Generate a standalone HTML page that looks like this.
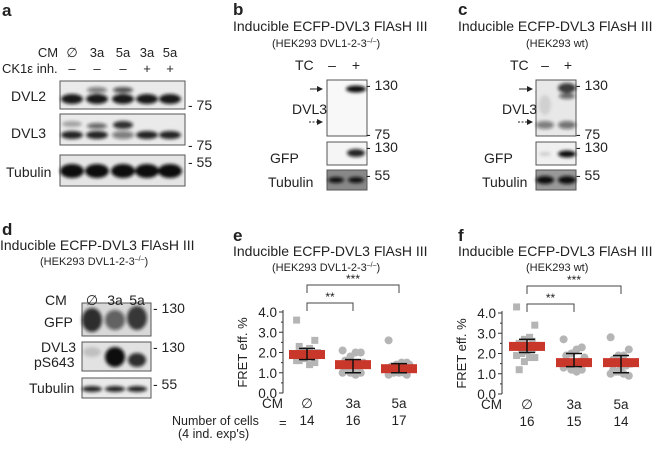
<!DOCTYPE html>
<html><head><meta charset="utf-8"><style>
body{margin:0;background:#fff}
svg text{font-family:"Liberation Sans",Arial,sans-serif;fill:#222}
</style></head><body>
<svg width="660" height="446" viewBox="0 0 660 446" xmlns="http://www.w3.org/2000/svg">
<defs>
<filter id="bl" x="-30%" y="-80%" width="160%" height="260%"><feGaussianBlur stdDeviation="1.6"/></filter>
<marker id="ar" markerWidth="6" markerHeight="6" refX="5" refY="3" orient="auto"><path d="M0,0 L6,3 L0,6z" fill="#222"/></marker>
</defs>
<g id="blots"></g>
<g id="txt" font-size="13">
<!-- panel a -->
<text x="2" y="16" font-size="17" font-weight="bold">a</text>
<text x="48" y="57" text-anchor="middle">CM</text>
<text x="72" y="57" text-anchor="middle">∅</text><text x="97" y="57" text-anchor="middle">3a</text><text x="123" y="57" text-anchor="middle">5a</text><text x="147" y="57" text-anchor="middle">3a</text><text x="170" y="57" text-anchor="middle">5a</text>
<text x="2" y="73">CK1ε inh.</text>
<text x="72" y="73" text-anchor="middle">–</text><text x="97" y="73" text-anchor="middle">–</text><text x="123" y="73" text-anchor="middle">–</text><text x="147" y="73" text-anchor="middle">+</text><text x="170" y="73" text-anchor="middle">+</text>
<text x="11" y="101" font-size="14">DVL2</text>
<text x="11" y="138" font-size="14">DVL3</text>
<text x="6" y="177" font-size="14">Tubulin</text>
<text x="188" y="110" font-size="14">- 75</text><text x="188" y="150" font-size="14">- 75</text><text x="188" y="167" font-size="14">- 55</text>
<!-- panel d -->
<text x="2" y="235" font-size="17" font-weight="bold">d</text>
<text x="0" y="250" font-size="14">Inducible ECFP-DVL3 FlAsH III</text>
<text x="40" y="265" font-size="11">(HEK293 DVL1-2-3<tspan font-size="7" dy="-4">–/–</tspan><tspan dy="4">)</tspan></text>
<text x="45" y="305" font-size="14">CM</text><text x="92" y="305" text-anchor="middle" font-size="14">∅</text><text x="115" y="305" text-anchor="middle" font-size="14">3a</text><text x="137" y="305" text-anchor="middle" font-size="14">5a</text>
<text x="44" y="327" font-size="14">GFP</text>
<text x="41" y="352" font-size="14">DVL3</text><text x="34" y="367" font-size="14">pS643</text>
<text x="29" y="393" font-size="14">Tubulin</text>
<text x="153" y="313" font-size="14">- 130</text><text x="153" y="352" font-size="14">- 130</text><text x="153" y="389" font-size="14">- 55</text>
<!-- panel b -->
<text x="233" y="15" font-size="17" font-weight="bold">b</text>
<text x="233" y="31" font-size="14">Inducible ECFP-DVL3 FlAsH III</text>
<text x="272" y="47" font-size="11">(HEK293 DVL1-2-3<tspan font-size="7" dy="-4">–/–</tspan><tspan dy="4">)</tspan></text>
<text x="295" y="70" font-size="14">TC</text><text x="332" y="70" text-anchor="middle" font-size="14">–</text><text x="356" y="70" text-anchor="middle" font-size="14">+</text>
<text x="292" y="114" font-size="14">DVL3</text>
<text x="270" y="163" font-size="14">GFP</text>
<text x="268" y="187" font-size="14">Tubulin</text>
<text x="366" y="90" font-size="14">- 130</text><text x="366" y="139" font-size="14">- 75</text><text x="366" y="152" font-size="14">- 130</text><text x="366" y="180" font-size="14">- 55</text>
<line x1="310" y1="89" x2="322" y2="89" stroke="#222" marker-end="url(#ar)"/>
<line x1="309" y1="122" x2="322" y2="122" stroke="#222" stroke-dasharray="2,1.5" marker-end="url(#ar)"/>
<!-- panel c -->
<text x="458" y="15" font-size="17" font-weight="bold">c</text>
<text x="458" y="31" font-size="14">Inducible ECFP-DVL3 FlAsH III</text>
<text x="526" y="47" font-size="11">(HEK293 wt)</text>
<text x="510" y="70" font-size="14">TC</text><text x="545" y="70" text-anchor="middle" font-size="14">–</text><text x="568" y="70" text-anchor="middle" font-size="14">+</text>
<text x="502" y="114" font-size="14">DVL3</text>
<text x="484" y="163" font-size="14">GFP</text>
<text x="482" y="187" font-size="14">Tubulin</text>
<text x="576" y="90" font-size="14">- 130</text><text x="576" y="139" font-size="14">- 75</text><text x="576" y="152" font-size="14">- 130</text><text x="576" y="180" font-size="14">- 55</text>
<line x1="519" y1="89" x2="532" y2="89" stroke="#222" marker-end="url(#ar)"/>
<line x1="518" y1="122" x2="532" y2="122" stroke="#222" stroke-dasharray="2,1.5" marker-end="url(#ar)"/>
<!-- panel e/f headers -->
<text x="233" y="241" font-size="17" font-weight="bold">e</text>
<text x="233" y="256" font-size="14">Inducible ECFP-DVL3 FlAsH III</text>
<text x="272" y="271" font-size="11">(HEK293 DVL1-2-3<tspan font-size="7" dy="-4">–/–</tspan><tspan dy="4">)</tspan></text>
<text x="458" y="241" font-size="17" font-weight="bold">f</text>
<text x="458" y="256" font-size="14">Inducible ECFP-DVL3 FlAsH III</text>
<text x="526" y="271" font-size="11">(HEK293 wt)</text>
<text x="172" y="425" font-size="12.5">Number of cells</text>
<text x="178" y="438" font-size="12.5">(4 ind. exp's)</text>
<text x="279" y="427" font-size="13">=</text>
</g>
<g id="charts"></g>
</svg>
<script>
// ---- chart data ----
const categories = ["∅", "3a", "5a"];
const eNull = [3.6,2.6,2.2,2.1,2.3,2.0,1.9,1.8,1.7,1.6,1.5,1.4,1.7,1.6];
const e3a = [2.1,2.0,2.0,1.8,1.6,1.4,1.3,1.2,1.1,1.0,1.0,0.9,1.0,1.2,1.5,1.3];
const e5a = [2.6,1.5,1.5,1.4,1.3,1.2,1.1,1.0,1.0,0.9,0.9,1.1,1.2,1.3,1.4,1.0,1.1];
const eMeans = [1.9,1.4,1.2];
const eErrLo = [1.65,1.0,1.0];
const eErrHi = [2.2,1.65,1.45];
const eCounts = ["14","16","17"];
const fNull = [4.3,3.4,2.8,2.7,2.5,2.3,2.2,2.1,2.0,1.9,1.8,1.8,1.6,1.2,2.4,2.6];
const f3a = [2.7,2.3,2.2,2.0,1.9,1.8,1.6,1.5,1.4,1.3,1.2,1.1,1.2,1.4,1.7];
const f5a = [2.8,2.2,1.9,1.9,1.7,1.5,1.4,1.3,1.1,1.0,0.9,1.0,1.1,1.2];
const fMeans = [2.35,1.55,1.55];
const fErrLo = [2.05,1.35,1.05];
const fErrHi = [2.7,2.0,1.9];
const fCounts = ["16","15","14"];
const yTicks = [0,1,2,3,4];
const yTickLabels = ["0.0","1.0","2.0","3.0","4.0"];

const NS="http://www.w3.org/2000/svg";
function mk(tag,attrs,parent){const e=document.createElementNS(NS,tag);for(const k in attrs)e.setAttribute(k,attrs[k]);parent.appendChild(e);return e;}
const charts=document.getElementById('charts');

function drawChart(id,ax,y0,y4,xs,groups,means,lo,hi,counts,cmX){
  const g=mk('g',{},charts);
  
  
  const Y=v=>y0-(y0-y4)*v/4;
  const X=i=>xs[0]+i*(xs[1]-xs[0]);
  mk('line',{x1:ax,y1:Y(0),x2:ax,y2:Y(4)-2,stroke:'#333','stroke-width':1},g);
  yTicks.forEach((t,i)=>{
    mk('line',{x1:ax-4,y1:Y(t),x2:ax,y2:Y(t),stroke:'#333'},g);
    if(i<4) mk('line',{x1:ax-2,y1:Y(t+0.5),x2:ax,y2:Y(t+0.5),stroke:'#333'},g);
    const tx=mk('text',{x:ax-6,y:Y(t)+5,'text-anchor':'end','font-size':13.5},g);tx.textContent=yTickLabels[i];
  });
  const yl=mk('text',{x:0,y:0,'font-size':13,transform:`translate(${ax-36},${(y0+y4)/2}) rotate(-90)`,'text-anchor':'middle'},g);
  yl.textContent='FRET eff. %';
  
  
  groups.forEach((arr,gi)=>{
    const cx=X(gi);
    arr.forEach((v,j)=>{
      const off=((j*7)%9-4)*2.6;
      let p;
      if(gi===0) p=mk('rect',{x:cx+off-3.5,y:Y(v)-3.5,width:7,height:7,fill:'#b5b5b5'},g);
      else p=mk('circle',{cx:cx+off,cy:Y(v),r:4,fill:'#b5b5b5'},g);
      
      
    });
    const m=mk('rect',{x:cx-18,y:Y(means[gi])-4.5,width:36,height:9,fill:'#c9362a'},g);
    
    
    mk('line',{x1:cx,y1:Y(lo[gi]),x2:cx,y2:Y(hi[gi]),stroke:'#111','stroke-width':1.5},g);
    mk('line',{x1:cx-8,y1:Y(lo[gi]),x2:cx+8,y2:Y(lo[gi]),stroke:'#111','stroke-width':1.5},g);
    mk('line',{x1:cx-8,y1:Y(hi[gi]),x2:cx+8,y2:Y(hi[gi]),stroke:'#111','stroke-width':1.5},g);
    const ct=mk('text',{x:cx,y:y0+15,'text-anchor':'middle','font-size':13.5},g);ct.textContent=categories[gi];
    const nt=mk('text',{x:cx,y:y0+32,'text-anchor':'middle','font-size':13.5},g);nt.textContent=counts[gi];
  });
  const cm=mk('text',{x:cmX,y:y0+15,'font-size':13.5},g);cm.textContent='CM';
  const b1=y4-9,b2=y4-27;
  mk('path',{d:`M${X(0)},${b1+8}V${b1}H${X(1)}V${b1+8}`,fill:'none',stroke:'#444'},g);
  mk('path',{d:`M${X(0)},${b2+8}V${b2}H${X(2)}V${b2+8}`,fill:'none',stroke:'#444'},g);
  const s1=mk('text',{x:(X(0)+X(1))/2,y:b1-2,'text-anchor':'middle','font-size':12},g);s1.textContent='**';
  const s2=mk('text',{x:(X(0)+X(2))/2,y:b2-2,'text-anchor':'middle','font-size':12},g);s2.textContent='***';
}
drawChart('fret-chart-e',283,393,312,[307,353],[eNull,e3a,e5a],eMeans,eErrLo,eErrHi,eCounts,262);
drawChart('fret-chart-f',502,394,313,[527,574],[fNull,f3a,f5a],fMeans,fErrLo,fErrHi,fCounts,481);

// ---- blots ----
const bl=document.getElementById('blots');
function blot(name,x,y,w,h,bg,bands){
  const g=mk('g',{},bl);
  
  
  mk('rect',{x:x,y:y,width:w,height:h,fill:bg,stroke:'#555','stroke-width':1},g);
  const gg=mk('g',{filter:'url(#bl)'},g);
  bands.forEach(b=>mk('ellipse',{cx:b[0],cy:b[1],rx:b[2],ry:b[3],fill:'#111','fill-opacity':b[4]},gg));
}
const la=[72,97,123,147,170];
blot('blot-dvl2',60,81,125,28,'#eaeaea',la.map((c,i)=>[c,99,11,5,0.95]).concat([[97,90,10,3,0.5],[123,90,10,3,0.7]]));
blot('blot-dvl3',60,114,125,31,'#eaeaea',la.map((c,i)=>[c,135,11,4,i==2?0.5:0.9]).concat([[72,124,10,3,0.3],[97,126,10,3,0.6],[123,125,10,4,0.85]]));
blot('blot-tubulin-a',60,155,125,31,'#e5e5e5',la.map(c=>[c,171,12,7,1]));
blot('blot-gfp-d',82,303,69,33,'#d8d8d8',[[92,320,10,12,0.85],[115,320,10,10,0.6],[137,318,10,12,0.8]]);
blot('blot-pdvl3-d',82,342,69,29,'#e2e2e2',[[92,352,9,5,0.15],[115,357,10,10,1],[137,360,9,7,0.85]]);
blot('blot-tubulin-d',82,378,69,20,'#eaeaea',[[92,389,10,3,0.9],[115,389,10,3,0.9],[137,389,10,3,0.9]]);
blot('blot-dvl3-b',327,80,40,56,'#f8f8f8',[[356,89,10,3.5,1]]);
blot('blot-gfp-b',327,142,40,23,'#f5f5f5',[[356,153,9,4,0.9]]);
blot('blot-tubulin-b',327,170,40,20,'#888',[[336,180,8,3,1],[356,180,8,3,1]]);
blot('blot-dvl3-c',536,80,40,56,'#e8e8e8',[[567,88,9,5,0.8],[567,96,8,3,0.6],[545,125,9,4,0.5],[567,125,9,4,0.55],[545,105,6,10,0.1]]);
blot('blot-gfp-c',536,142,40,23,'#f0f0f0',[[567,154,9,3.5,1],[545,154,6,2,0.15]]);
blot('blot-tubulin-c',536,170,40,20,'#999',[[545,180,9,4,1],[567,180,9,4,1]]);
</script>
</body></html>
